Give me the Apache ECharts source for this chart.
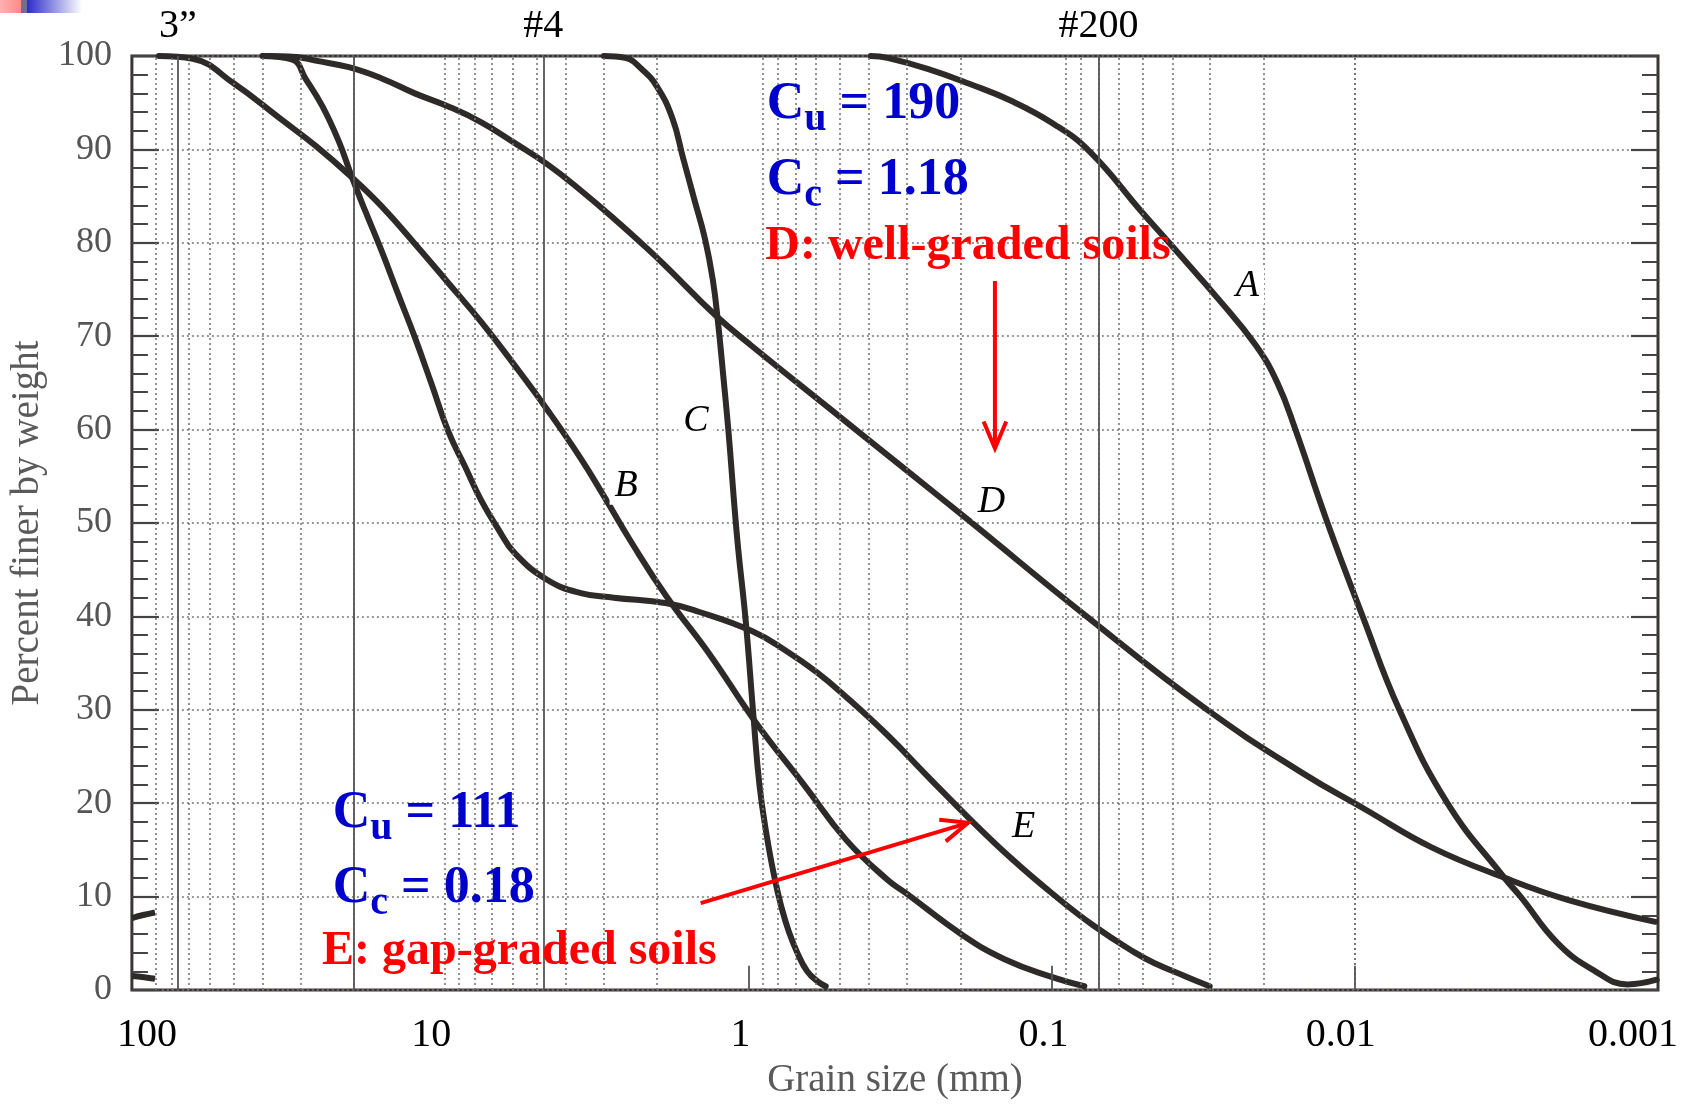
<!DOCTYPE html>
<html>
<head>
<meta charset="utf-8">
<title>Grain size distribution curves</title>
<script src="https://cdn.jsdelivr.net/npm/echarts@6/dist/echarts.min.js"></script>
<style>
    html, body {margin:0;padding:0;background:#fff;}
    #chart {width:1696px;height:1105px;}
</style>
</head>
<body>
<div id="chart"></div>
<script>
    // axis ticks
    var xTickValues = [100, 10, 1, 0.1, 0.01, 0.001];
    var xTickLabels = ['100', '10', '1', '0.1', '0.01', '0.001'];
    var sieveSizes = [76.2, 20.0, 4.75, 0.075];
    var sieveLabels = ['3\u201d', '', '#4', '#200'];

    // curves: [grain size mm, percent finer]
    var curveA = [[0.395,100],[0.348,99.8],[0.255,98.6],[0.186,97.0],[0.136,95.2],[0.0993,92.8],[0.075,89.8],
        [0.0504,83.3],[0.0402,79.7],[0.0284,74.1],[0.0213,69.1],[0.018,65.0],[0.0157,60.0],[0.0123,50.0],
        [0.00942,40.0],[0.00713,30.0],[0.00495,20.0],[0.00321,12.0],[0.00284,10.0],[0.00214,5.0],[0.00161,2.0],
        [0.00126,0.6],[0.00101,1.1]];
    var curveB = [[88,100],[68,99.7],[50,97.1],[34.4,93.1],[26.8,90.4],[20.3,87.0],[16.2,83.9],[12.6,79.9],
        [9.77,75.7],[7.6,71.5],[5.91,66.9],[4.6,62.1],[3.57,56.9],[3.0,52.9],[2.45,48.1],[1.86,42.1],[1.34,35.9],
        [0.948,28.7],[0.65,21.8],[0.477,16.1],[0.348,11.8],[0.303,10.4],[0.197,5.9],[0.143,3.3],[0.1,1.4],[0.078,0.4]];
    var curveC = [[3.0,100],[2.55,99.8],[2.25,98.6],[2.0,96.7],[1.78,93.3],[1.64,89.0],[1.51,84.7],[1.39,80.4],
        [1.31,76.0],[1.26,71.5],[1.21,65.7],[1.165,60.0],[1.09,48.5],[1.02,39.4],[0.964,29.6],[0.92,22.0],
        [0.87,16.5],[0.82,12.0],[0.78,9.0],[0.735,6.2],[0.69,4.0],[0.64,2.0],[0.59,0.9],[0.556,0.4]];
    var curveD = [[40,100],[31,99.9],[26.8,99.5],[20.8,98.8],[16.2,97.6],[12.6,96.0],[9.77,94.6],[7.6,92.9],
        [5.91,90.7],[4.6,88.4],[3.57,85.6],[2.78,82.6],[2.16,79.4],[1.86,77.4],[1.29,72.3],[0.97,68.9],
        [0.547,62.4],[0.308,55.9],[0.188,50.3],[0.0767,40.0],[0.0313,30.2],[0.015,23.3],[0.0092,19.3],
        [0.0056,15.3],[0.0032,12.0],[0.00196,9.6],[0.00102,7.3]];
    var curveE = [[40,100],[31.9,99.6],[28.8,97.5],[25.4,94.6],[22.4,90.8],[20.3,87.0],[18.3,83.3],[16.2,79.1],
        [14.3,74.5],[12.6,69.9],[11.1,64.9],[9.77,59.8],[8.62,56.1],[7.6,52.4],[6.7,49.4],[5.91,46.8],[4.6,43.9],
        [3.57,42.5],[2.78,42.0],[1.86,41.4],[1.46,40.5],[0.97,38.4],[0.75,36.3],[0.594,34.0],[0.477,31.4],
        [0.348,27.3],[0.255,22.8],[0.186,18.3],[0.136,14.1],[0.0993,10.3],[0.0728,6.9],[0.0531,4.0],[0.0459,2.9],
        [0.0358,1.4],[0.0301,0.4]];
    // bits of other curves cut off at the left edge
    var edgeUpper = [[108,7.7],[100,8.0],[90.6,8.3]];
    var edgeLower = [[108,1.5],[100,1.4],[90.6,1.2]];

    var curveNames = ['A', 'B', 'C', 'D', 'E'];
    var curveData = [curveA, curveB, curveC, curveD, curveE];

    // annotations (data coords)
    var curveLabelAt = [[0.0226,75.4],[2.53,54.0],[1.49,60.9],[0.158,52.3],[0.1236,17.5]];
    var blueNotes = [
        {at: [0.87, 94.8], sub: 'u', rest: ' = 190'},
        {at: [0.87, 86.7], sub: 'c', rest: ' = 1.18'},
        {at: [23.5, 18.9], sub: 'u', rest: ' = 111'},
        {at: [23.5, 10.9], sub: 'c', rest: ' = 0.18'}
    ];
    var redNotes = [
        {at: [0.88, 79.6], text: 'D: well-graded soils'},
        {at: [25.5, 4.1], text: 'E: gap-graded soils'}
    ];
    var arrows = [
        {from: [0.1538, 75.9], to: [0.1538, 58.0]},
        {from: [1.437, 9.3], to: [0.1886, 17.9]}
    ];

    var SERIF = '"Liberation Serif", "Times New Roman", serif';
    var INK = '#2f2a2a';
    var DOT = '#777';

    // minor log grid lines
    var minorX = [10];
    for (var k = -3; k <= 1; k++) {
        for (var m = 2; m <= 9; m++) {
            minorX.push(+(m * Math.pow(10, k)).toPrecision(3));
        }
    }

    var rich = {};
    var labelShift = [[0,0,0,10],[0,28,0,0],[0,16,0,0],[0,16,0,0],[0,28,0,0],[0,50,0,0]];
    for (var i = 0; i < xTickValues.length; i++) {
        rich['t' + i] = {fontFamily: SERIF, fontSize: 40, color: '#000', padding: labelShift[i]};
    }

    var series = [];
    // dotted vertical grid
    series.push({
        type: 'line', name: 'gridDot', data: [[1, 50]], showSymbol: false, silent: true, z: 1,
        lineStyle: {opacity: 0},
        markLine: {
            silent: true, symbol: 'none', animation: false,
            label: {show: false},
            lineStyle: {color: DOT, width: 1.6, type: [2, 3]},
            data: minorX.map(function (v) { return {xAxis: v}; })
        }
    });
    // solid sieve lines + decade ticks
    var solidLines = sieveSizes.map(function (v, i) {
        return {xAxis: v, label: {show: sieveLabels[i] !== '', formatter: sieveLabels[i]}};
    });
    [1, 0.1, 0.01].forEach(function (v) {
        solidLines.push([{coord: [v, 0]}, {coord: [v, 2.6], label: {show: false}}]);
    });
    series.push({
        type: 'line', name: 'gridSolid', data: [[1, 50]], showSymbol: false, silent: true, z: 2,
        lineStyle: {opacity: 0},
        markLine: {
            silent: true, symbol: 'none', animation: false,
            label: {position: 'end', distance: 10, fontFamily: SERIF, fontSize: 40, color: '#000'},
            lineStyle: {color: '#555', width: 1.8, type: 'solid'},
            data: solidLines
        }
    });
    curveData.forEach(function (d, i) {
        series.push({
            type: 'line', name: curveNames[i], data: d, showSymbol: false, smooth: 0.45, clip: false, z: 3,
            lineStyle: {color: INK, width: 6, cap: 'round', join: 'round'}
        });
    });
    [edgeUpper, edgeLower].forEach(function (d) {
        series.push({
            type: 'line', data: d, showSymbol: false, smooth: 0.3, clip: false, z: 3,
            lineStyle: {color: INK, width: 6}
        });
    });

    var option = {
        backgroundColor: '#fff',
        animation: false,
        grid: {left: 120, right: 38, top: 56, bottom: 106.5, show: true, borderColor: '#3a3535', borderWidth: 3, backgroundColor: 'transparent'},
        xAxis: {
            type: 'log', logBase: 10, inverse: true, min: 0.001, max: 108,
            name: 'Grain size (mm)', nameLocation: 'middle', nameGap: 71,
            nameTextStyle: {fontFamily: SERIF, fontSize: 39, color: '#5a5a5a'},
            axisLine: {show: false}, axisTick: {show: false}, splitLine: {show: false}, minorTick: {show: false},
            axisLabel: {
                margin: 25, fontFamily: SERIF, fontSize: 40, color: '#000', rich: rich,
                formatter: function (v) {
                    for (var i = 0; i < xTickValues.length; i++) {
                        if (Math.abs(Math.log10(v) - Math.log10(xTickValues[i])) < 1e-6) {
                            return '{t' + i + '|' + xTickLabels[i] + '}';
                        }
                    }
                    return '';
                }
            }
        },
        yAxis: [{
            type: 'value', min: 0, max: 100, interval: 10,
            name: 'Percent finer by weight', nameLocation: 'middle', nameGap: 65, nameRotate: 90,
            nameTextStyle: {fontFamily: SERIF, fontSize: 39, color: '#5a5a5a'},
            axisLine: {show: false},
            axisTick: {show: true, inside: true, length: 27, lineStyle: {color: '#444', width: 2.2}},
            minorTick: {show: true, splitNumber: 5, length: 16, lineStyle: {color: '#444', width: 2}},
            splitLine: {show: true, lineStyle: {color: DOT, width: 1.6, type: [2, 3]}},
            axisLabel: {margin: 20, fontFamily: SERIF, fontSize: 36, color: '#555'}
        }, {
            type: 'value', min: 0, max: 100, interval: 10, position: 'right',
            axisLine: {show: false},
            axisTick: {show: true, inside: true, length: 27, lineStyle: {color: '#444', width: 2.2}},
            minorTick: {show: true, splitNumber: 5, length: 16, lineStyle: {color: '#444', width: 2}},
            splitLine: {show: false},
            axisLabel: {show: false}
        }],
        series: series
    };

    var chart = echarts.init(document.getElementById('chart'));
    chart.setOption(option);

    function px(p) {
        return chart.convertToPixel({xAxisIndex: 0, yAxisIndex: 0}, p);
    }

    var graphics = [];
    // slide corner decoration
    graphics.push({type: 'rect', shape: {x: 0, y: 0, width: 21, height: 13}, z: 20,
        style: {fill: new echarts.graphic.LinearGradient(0, 0, 1, 0, [{offset: 0, color: '#ffb0b0'}, {offset: 1, color: '#ff8a8a'}])}});
    graphics.push({type: 'rect', shape: {x: 21, y: 0, width: 6, height: 13}, z: 20, style: {fill: '#6f7090'}});
    graphics.push({type: 'rect', shape: {x: 27, y: 0, width: 55, height: 13}, z: 20,
        style: {fill: new echarts.graphic.LinearGradient(0, 0, 1, 0, [{offset: 0, color: '#2c2ccc'}, {offset: 1, color: '#ffffff'}])}});

    curveNames.forEach(function (n, i) {
        var p = px(curveLabelAt[i]);
        graphics.push({type: 'text', x: p[0], y: p[1], z: 30,
            style: {text: n, font: 'italic 38px ' + SERIF, fill: '#000', align: 'center', verticalAlign: 'middle',
                backgroundColor: '#fff', padding: [0, 5]}});
    });

    blueNotes.forEach(function (n) {
        var p = px(n.at);
        graphics.push({type: 'text', x: p[0], y: p[1], z: 30,
            style: {
                text: '{c|C}{s|' + n.sub + '}{c|' + n.rest + '}',
                align: 'left', verticalAlign: 'middle',
                rich: {
                    c: {fontFamily: SERIF, fontWeight: 'bold', fontSize: 52, lineHeight: 56, fill: '#0000cc'},
                    s: {fontFamily: SERIF, fontWeight: 'bold', fontSize: 40, lineHeight: 40, fill: '#0000cc', padding: [30, 0, 0, 0]}
                }
            }});
    });

    redNotes.forEach(function (n) {
        var p = px(n.at);
        graphics.push({type: 'text', x: p[0], y: p[1], z: 30,
            style: {text: n.text, font: 'bold 48px ' + SERIF, fill: '#ff0000', align: 'left', verticalAlign: 'middle'}});
    });

    arrows.forEach(function (a) {
        var s = px(a.from), t = px(a.to);
        var dx = t[0] - s[0], dy = t[1] - s[1];
        var len = Math.sqrt(dx * dx + dy * dy);
        var ux = dx / len, uy = dy / len;
        var L = 29, th = 23 * Math.PI / 180;
        var c = Math.cos(th), sn = Math.sin(th);
        var a1 = [t[0] - L * (ux * c - uy * sn), t[1] - L * (uy * c + ux * sn)];
        var a2 = [t[0] - L * (ux * c + uy * sn), t[1] - L * (uy * c - ux * sn)];
        graphics.push({type: 'polyline', z: 25, shape: {points: [s, t]},
            style: {stroke: '#ff0000', lineWidth: 4, fill: null}});
        graphics.push({type: 'polyline', z: 25, shape: {points: [a1, t, a2]},
            style: {stroke: '#ff0000', lineWidth: 4, fill: null, lineJoin: 'miter'}});
    });

    chart.setOption({graphic: graphics});
</script>
</body>
</html>
